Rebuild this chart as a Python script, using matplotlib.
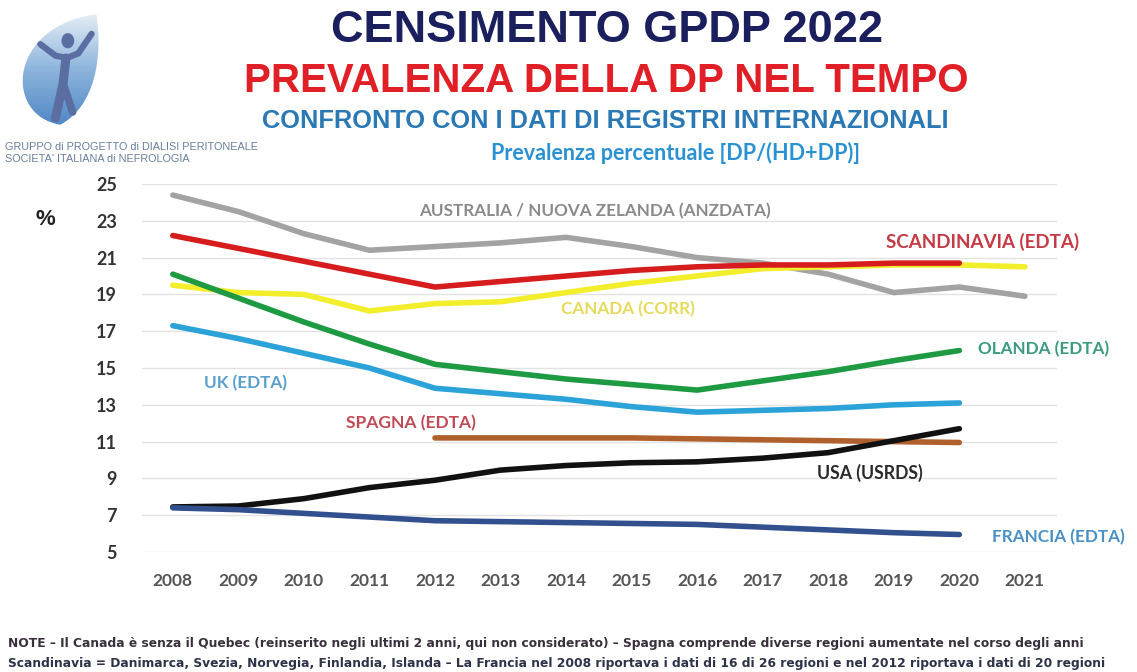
import numpy as np
import matplotlib
matplotlib.use("Agg")
import matplotlib.pyplot as plt
from matplotlib.path import Path
from matplotlib.patches import PathPatch, Circle
from matplotlib.colors import LinearSegmentedColormap

# Prevalenza percentuale DP/(HD+DP) per registro
years = [2008, 2009, 2010, 2011, 2012, 2013, 2014, 2015, 2016, 2017, 2018, 2019, 2020, 2021]
anzdata = [24.4, 23.5, 22.3, 21.4, 21.6, 21.8, 22.1, 21.6, 21.0, 20.7, 20.1, 19.1, 19.4, 18.9]
canada = [19.5, 19.1, 19.0, 18.1, 18.5, 18.6, 19.1, 19.6, 20.0, 20.4, 20.5, 20.6, 20.6, 20.5]
scandinavia = [22.2, 21.5, 20.8, 20.1, 19.4, 19.7, 20.0, 20.3, 20.5, 20.6, 20.6, 20.7, 20.7]
olanda = [20.1, 18.8, 17.5, 16.3, 15.2, 14.8, 14.4, 14.1, 13.8, 14.3, 14.8, 15.4, 15.95]
uk = [17.3, 16.6, 15.8, 15.0, 13.9, 13.6, 13.3, 12.9, 12.6, 12.7, 12.8, 13.0, 13.1]
spagna_years = [2012, 2013, 2014, 2015, 2016, 2017, 2018, 2019, 2020]
spagna = [11.2, 11.2, 11.2, 11.2, 11.15, 11.1, 11.05, 11.0, 10.95]
usa = [7.45, 7.5, 7.9, 8.5, 8.9, 9.45, 9.7, 9.85, 9.9, 10.1, 10.4, 11.05, 11.7]
francia = [7.4, 7.3, 7.1, 6.9, 6.7, 6.65, 6.6, 6.55, 6.5, 6.35, 6.2, 6.05, 5.95]

y_ticks = [5, 7, 9, 11, 13, 15, 17, 19, 21, 23, 25]

W, H = 1137, 672
fig = plt.figure(figsize=(W / 100, H / 100), dpi=100)
fig.patch.set_facecolor("white")
ax = fig.add_axes([142 / W, 1 - 552 / H, 915 / W, 368 / H])

lw = 4
series = [
    (years, anzdata, "#a3a3a3"),
    (years, canada, "#f2ee2c"),
    (years[:13], scandinavia, "#d61c1c"),
    (years[:13], olanda, "#1e9a42"),
    (years[:13], uk, "#2ba2d8"),
    (spagna_years, spagna, "#b0602c"),
    (years[:13], usa, "#111111"),
    (years[:13], francia, "#33508e"),
]
for xs, ys, c in series:
    ax.plot(xs, ys, color=c, lw=lw, solid_capstyle="round", clip_on=False)

ax.set_xlim(2007.53, 2021.49)
ax.set_ylim(5, 25)
ax.set_yticks(y_ticks)
ax.set_xticks(years)
ax.grid(axis="y", color="#e2e2e2", lw=1)
ax.set_axisbelow(True)
for s in ax.spines.values():
    s.set_visible(False)
ax.tick_params(length=0)
ax.tick_params(axis="y", pad=18, labelsize=13, labelcolor="#333333")
ax.tick_params(axis="x", pad=15, labelsize=12.5, labelcolor="#555555")
for lab in ax.get_xticklabels() + ax.get_yticklabels():
    lab.set_family("Lato")
    lab.set_fontweight("bold")

# etichette delle serie
lab_kw = dict(family="Lato", fontweight="bold", va="center", clip_on=False)
ax.text(2014.44, 23.54, "AUSTRALIA / NUOVA ZELANDA (ANZDATA)", color="#8a8a8a",
        ha="center", fontsize=12.3, **lab_kw)
ax.text(2020.35, 21.86, "SCANDINAVIA (EDTA)", color="#c43a45", ha="center", fontsize=13.5, **lab_kw)
ax.text(2014.95, 18.2, "CANADA (CORR)", color="#e6da5c", ha="center", fontsize=12.3, **lab_kw)
ax.text(2020.28, 16.05, "OLANDA (EDTA)", color="#3c9a80", ha="left", fontsize=12.3, **lab_kw)
ax.text(2009.11, 14.2, "UK (EDTA)", color="#5a9fcc", ha="center", fontsize=12.3, **lab_kw)
ax.text(2011.63, 12.0, "SPAGNA (EDTA)", color="#c04a56", ha="center", fontsize=12.5, **lab_kw)
ax.text(2018.63, 9.28, "USA (USRDS)", color="#2a2a2a", ha="center", fontsize=12.7, **lab_kw)
ax.text(2020.5, 5.81, "FRANCIA (EDTA)", color="#4a90c4", ha="left", fontsize=12.3, **lab_kw)

# titoli
fig.text(607 / W, 1 - 31 / H, "CENSIMENTO GPDP 2022", family="Liberation Sans",
         fontweight="bold", fontsize=32.5, color="#1b1f5e", ha="center", va="center")
fig.text(606 / W, 1 - 81 / H, "PREVALENZA DELLA DP NEL TEMPO", family="Liberation Sans",
         fontweight="bold", fontsize=29, color="#e01f26", ha="center", va="center")
fig.text(605 / W, 1 - 121 / H, "CONFRONTO CON I DATI DI REGISTRI INTERNAZIONALI",
         family="Liberation Sans", fontweight="bold", fontsize=18.3, color="#2a78b4",
         ha="center", va="center")
fig.text(676 / W, 1 - 153 / H, "Prevalenza percentuale [DP/(HD+DP)]", family="Lato",
         fontweight="bold", fontsize=15.5, color="#2a92d2", ha="center", va="center")
fig.text(45 / W, 1 - 219 / H, "%", family="Liberation Sans", fontweight="bold",
         fontsize=16, color="#222222", ha="center", va="center")

# logo: foglia con figura a braccia alzate
lax = fig.add_axes([8 / W, 1 - 127 / H, 95 / W, 115 / H])
lax.set_xlim(0, 1)
lax.set_ylim(0, 1)
lax.axis("off")
leaf = Path([(0.55, 0.02), (-0.05, 0.10), (0.0, 0.88), (0.93, 0.98),
             (1.0, 0.62), (0.92, 0.18), (0.55, 0.02), (0.55, 0.02)],
            [Path.MOVETO, Path.CURVE4, Path.CURVE4, Path.CURVE4,
             Path.CURVE4, Path.CURVE4, Path.CURVE4, Path.CLOSEPOLY])
patch = PathPatch(leaf, facecolor="none", edgecolor="none")
lax.add_patch(patch)
leaf_cmap = LinearSegmentedColormap.from_list("leaf", ["#4f86c6", "#8db4dc", "#e6eef6"])
grad = np.linspace(0, 1, 100).reshape(-1, 1) * np.ones((1, 100))
img = lax.imshow(grad, extent=[0, 1, 0, 1], origin="lower", cmap=leaf_cmap, aspect="auto")
img.set_clip_path(patch)
fig_c = "#5a6ea2"
lax.add_patch(Circle((0.63, 0.75), 0.06, color=fig_c))
lax.plot([0.34, 0.50, 0.62, 0.74, 0.88], [0.72, 0.62, 0.60, 0.64, 0.81], color=fig_c, lw=4.5,
         solid_capstyle="round")
lax.plot([0.61, 0.58, 0.50], [0.60, 0.38, 0.08], color=fig_c, lw=6.5, solid_capstyle="round")
lax.plot([0.58, 0.68], [0.38, 0.13], color=fig_c, lw=5.5, solid_capstyle="round")

fig.text(5 / W, 1 - 147 / H, "GRUPPO di PROGETTO di DIALISI PERITONEALE",
         family="Liberation Sans", fontsize=7.8, color="#6a7f9c", va="center")
fig.text(5 / W, 1 - 159 / H, "SOCIETA' ITALIANA di NEFROLOGIA",
         family="Liberation Sans", fontsize=7.8, color="#6a7f9c", va="center")

# note
fig.text(8 / W, 1 - 643 / H,
         "NOTE \u2013 Il Canada è senza il Quebec (reinserito negli ultimi 2 anni, qui non considerato) "
         "\u2013 Spagna comprende diverse regioni aumentate nel corso degli anni",
         family="DejaVu Sans", fontweight="bold", fontsize=8.8, color="#3a2f3c",
         va="center")
fig.text(8 / W, 1 - 663 / H,
         "Scandinavia = Danimarca, Svezia, Norvegia, Finlandia, Islanda \u2013 La Francia nel 2008 "
         "riportava i dati di 16 di 26 regioni e nel 2012 riportava i dati di 20 regioni",
         family="DejaVu Sans", fontweight="bold", fontsize=8.8, color="#2d3348",
         va="center")

fig.savefig("out.png", dpi=100, facecolor="white")
